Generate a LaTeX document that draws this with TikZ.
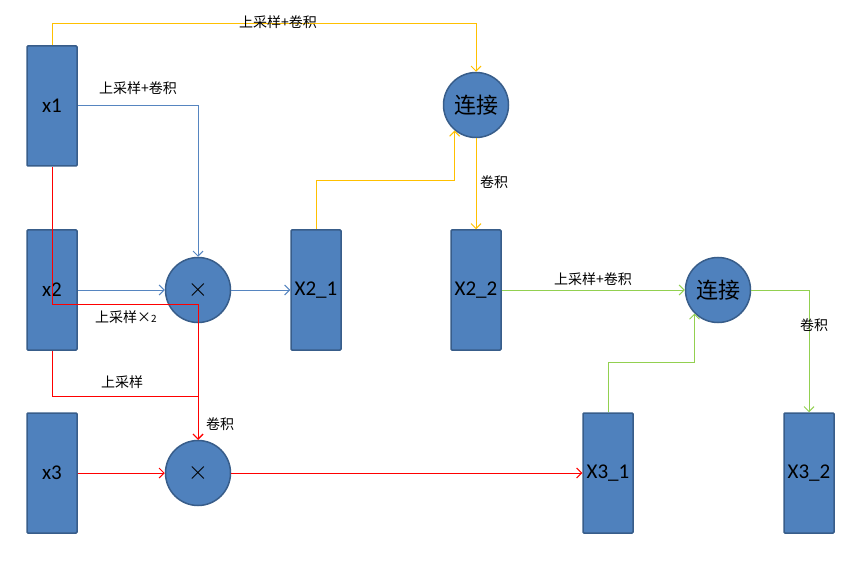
\documentclass[tikz,border=0pt]{standalone}
\usepackage{fontspec}
\setmainfont{Carlito}
\newfontfamily\cjk{Noto Sans CJK SC}
\usetikzlibrary{arrows.meta}
\definecolor{boxfill}{HTML}{4F81BD}
\definecolor{boxline}{HTML}{385D8A}
\definecolor{lblue}{HTML}{5685C0}
\definecolor{lyellow}{HTML}{FFC000}
\definecolor{lred}{HTML}{FF0000}
\definecolor{lgreen}{HTML}{92D050}

\begin{document}
\begin{tikzpicture}[x=1pt,y=-1pt,>={Straight Barb[length=5pt,width=10pt]},
    blk/.style={draw=boxline,fill=boxfill,line width=1.5pt,rounded corners=1pt,minimum width=50pt,minimum height=120pt,inner sep=0pt,font=\fontsize{21}{21}\selectfont},
    op/.style={circle,draw=boxline,fill=boxfill,line width=1.5pt,minimum size=65pt,inner sep=0pt},
    lbl/.style={font=\cjk\fontsize{14}{14}\selectfont,inner sep=0pt},
    ylw/.style={->,draw=lyellow,line width=1pt},
    blu/.style={->,draw=lblue,line width=1pt},
    rd/.style={->,draw=lred,line width=1pt},
    grn/.style={->,draw=lgreen,line width=1pt}]
        \useasboundingbox (0,0) rectangle (865,564);
        \node[blk] (x1) at (52,106) {x1};
        \node[blk] (x2) at (52,290) {x2};
        \node[blk] (x3) at (52,473) {x3};
        \node[blk] (X21) at (316,290) {X2\_1};
        \node[blk] (X22) at (476,290) {X2\_2};
        \node[blk] (X31) at (608,473) {X3\_1};
        \node[blk] (X32) at (809,473) {X3\_2};
        \node[op,font=\cjk\fontsize{22}{22}\selectfont] (jl1) at (476,105) {连接};
        \node[op,font=\cjk\fontsize{22}{22}\selectfont] (jl2) at (718,290) {连接};
        \node[op] (m1) at (198,290) {\scalebox{2.6}{$\times$}};
        \node[op] (m2) at (198,473) {\scalebox{2.6}{$\times$}};
        \draw[ylw] (x1.north) -- ++(0,-22) -| (jl1.north);
        \draw[ylw] (X21.north) -- ++(0,-49) -| (jl1.230);
        \draw[ylw] (jl1) -- (X22);
        \draw[blu] (x1.east) -| (m1.north);
        \draw[blu] (x2) -- (m1);
        \draw[blu] (m1) -- (X21);
        \draw[rd] (x1.south) -- ++(0,138) -| (m2.north);
        \draw[rd] (x2.south) -- ++(0,46) -| (m2.north);
        \draw[rd] (x3) -- (m2);
        \draw[rd] (m2) -- (X31);
        \draw[grn] (X22) -- (jl2);
        \draw[grn] (X31.north) -- ++(0,-50) -| (jl2.225);
        \draw[grn] (jl2.east) -| (X32.north);
        \node[lbl] (l1) at (278,22) {上采样+卷积};
        \node[lbl] (l2) at (138,88) {上采样+卷积};
        \node[lbl] (l3) at (494,182) {卷积};
        \node[lbl] (l4) at (126,317) {上采样×{\fontsize{10}{10}\selectfont 2}};
        \node[lbl] (l5) at (122,382) {上采样};
        \node[lbl] (l6) at (220,424) {卷积};
        \node[lbl] (l7) at (593,279) {上采样+卷积};
        \node[lbl] (l8) at (814,325) {卷积};
    \end{tikzpicture}
\end{document}
